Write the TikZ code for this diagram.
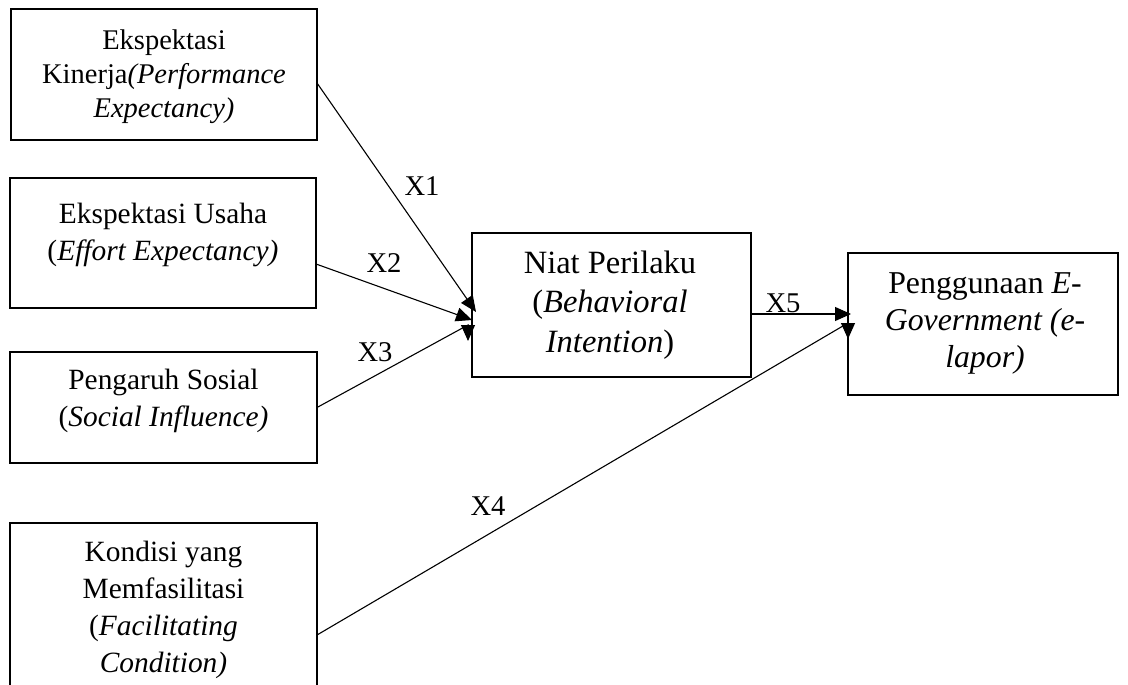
\documentclass[tikz,border=0pt]{standalone}
\usepackage{fontspec}
\setmainfont{Liberation Serif}
\usetikzlibrary{arrows.meta}
\tikzset{
  box/.style={draw=black, line width=2.5pt, rectangle, inner sep=0pt, outer sep=0pt},
  txt/.style={align=center, inner sep=0pt},
  fA/.style={font=\fontsize{28.5}{34}\selectfont},
  fB/.style={font=\fontsize{29.4}{37}\selectfont},
  fN/.style={font=\fontsize{32.5}{39.5}\selectfont},
  fP/.style={font=\fontsize{31.8}{37}\selectfont},
  lbl/.style={inner sep=0pt, font=\fontsize{28.6}{30}\selectfont},
  conn/.style={line width=1.1pt, line join=miter, -{Triangle[length=16pt,width=14pt]}},
}
\begin{document}
\begin{tikzpicture}[x=1pt,y=-1pt]
\useasboundingbox (0,0) rectangle (1128,685);
% boxes
\node[box, minimum width=306, minimum height=131] (ek) at (164,74.5) {};
\node[box, minimum width=306, minimum height=130] (eu) at (163,243) {};
\node[box, minimum width=307, minimum height=111] (ps) at (163.5,407.5) {};
\node[box, minimum width=307, minimum height=164] (km) at (163.5,605) {};
\node[box, minimum width=279, minimum height=144] (np) at (611.5,305) {};
\node[box, minimum width=270, minimum height=142] (pg) at (983,324) {};
% texts
\node[txt, fA] (tek) at (164,77) {Ekspektasi\\Kinerja\textit{(Performance}\\\textit{Expectancy)}};
\node[txt, fB] (teu) at (163,235) {Ekspektasi Usaha\\(\textit{Effort Expectancy)}};
\node[txt, fB] (tps) at (163.5,401) {Pengaruh Sosial\\(\textit{Social Influence)}};
\node[txt, fB] (tkm) at (163.5,610) {Kondisi yang\\Memfasilitasi\\(\textit{Facilitating}\\\textit{Condition)}};
\node[txt, fN] (tnp) at (610,305) {Niat Perilaku\\(\textit{Behavioral}\\\textit{Intention})};
\node[txt, fP] (tpg) at (985,323) {Penggunaan \textit{E-}\\\textit{Government (e-}\\\textit{lapor)}};
% connectors
\draw[conn] ([yshift=-8.5pt]ek.east) -- ([xshift=4pt,yshift=-7pt]np.west);
\draw[conn] ([yshift=-21pt]eu.east) -- ([yshift=-15pt]np.west);
\draw[conn] (ps.east) -- ([xshift=-4pt,yshift=-20pt]np.west) -- ([xshift=-4pt,yshift=-36pt]np.west);
\draw[conn] ([yshift=-9pt]np.east) -- ([xshift=3pt,yshift=10pt]pg.west);
\draw[conn] ([yshift=-30pt]km.east) -- ([yshift=1pt]pg.west) -- ([yshift=-15pt]pg.west);
% labels
\node[lbl] (x1) at (422,186) {X1};
\node[lbl] (x2) at (384,263) {X2};
\node[lbl] (x3) at (375,352) {X3};
\node[lbl] (x5) at (783,303) {X5};
\node[lbl] (x4) at (488,506) {X4};
\end{tikzpicture}
\end{document}
